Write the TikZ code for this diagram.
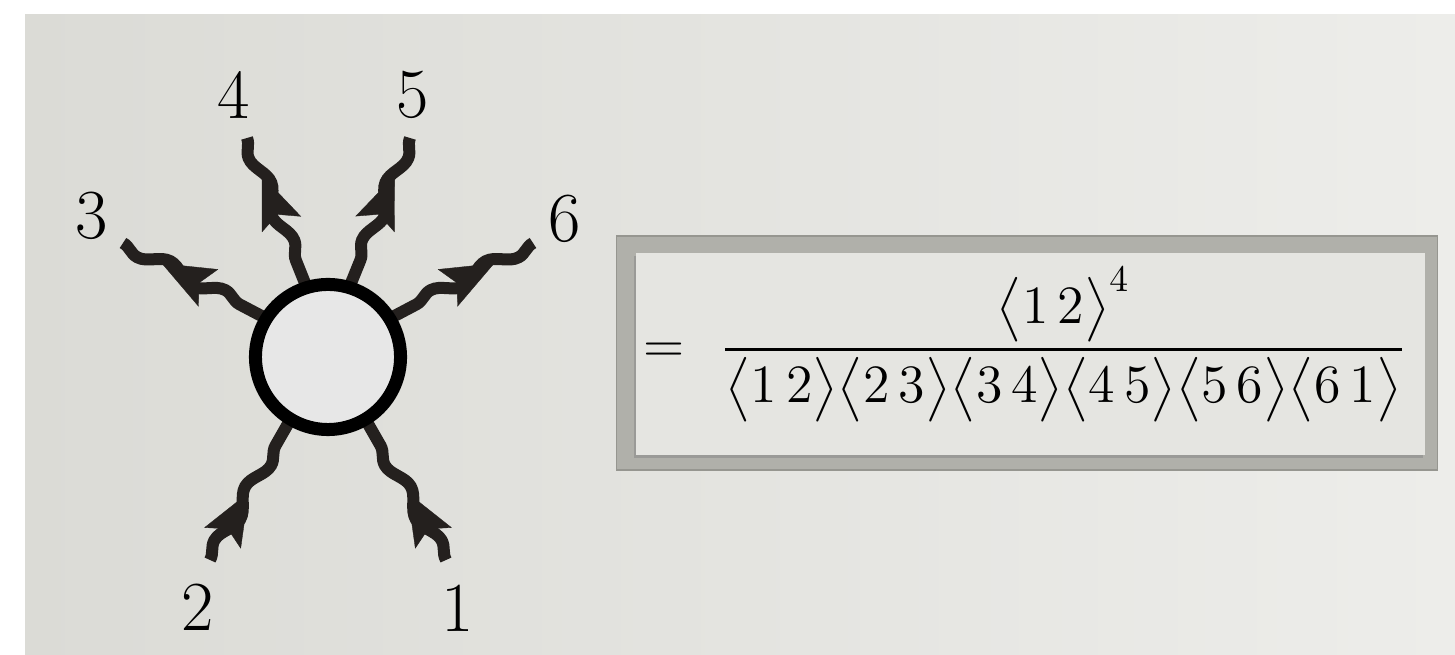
\documentclass[tikz,border=0pt]{standalone}
\usepackage{amsmath,amssymb}
\usepackage{tikz}
\usetikzlibrary{arrows.meta,positioning,calc,decorations.pathmorphing,shadows}
\definecolor{paperdark}{RGB}{219,219,214}
\definecolor{paperlight}{RGB}{237,237,234}
\definecolor{framegray}{RGB}{176,176,170}
\definecolor{panelgray}{RGB}{229,229,225}
\definecolor{blobfill}{RGB}{231,231,231}
\definecolor{gluonink}{RGB}{36,32,30}
\pgfdeclarelayer{bg}
\pgfdeclarelayer{legs}
\pgfsetlayers{bg,legs,main}

\begin{document}
\begin{tikzpicture}[x=.01cm,y=.01cm,
  gluon/.style={draw=gluonink,line width=.12cm,decorate,decoration={snake,amplitude=.06cm,segment length=.62cm}},
  gluon flip/.style={gluon,decoration={mirror}},
  gluon tip/.style={draw=gluonink,line width=.1pt,-{Stealth[length=15pt,width=12pt,inset=3pt]}},
  leg label/.style={font=\fontsize{20}{24}\selectfont,inner sep=0pt}]
\useasboundingbox (0,0) rectangle (1455,655);
\begin{pgfonlayer}{bg}
\fill[white] (0,0) rectangle (1455,655);
\shade[left color=paperdark,right color=paperlight] (25,0) rectangle (1455,640);
\end{pgfonlayer}
\node[circle,draw=black,fill=blobfill,line width=.13cm,minimum size=1.45cm,inner sep=0pt,outer sep=0pt] (blob) at (328,298) {};
\coordinate (e1) at (446,95);
\coordinate (e2) at (210,95);
\coordinate (e3) at (123,412);
\coordinate (e4) at (247,517);
\coordinate (e5) at (410,517);
\coordinate (e6) at (533,412);
\begin{pgfonlayer}{legs}
\draw[gluon flip] (e1) -- (blob.301);
\draw[gluon] (e2) -- (blob.239);
\draw[gluon flip] (e3) -- (blob.148);
\draw[gluon flip] (e4) -- (blob.107);
\draw[gluon] (e5) -- (blob.73);
\draw[gluon] (e6) -- (blob.32);
\draw[gluon tip] ($(e1)!.27!(blob.301)$) -- ($(e1)!.48!(blob.301)$);
\draw[gluon tip] ($(e2)!.27!(blob.239)$) -- ($(e2)!.48!(blob.239)$);
\draw[gluon tip] ($(e3)!.48!(blob.148)$) -- ($(e3)!.27!(blob.148)$);
\draw[gluon tip] ($(e4)!.46!(blob.107)$) -- ($(e4)!.25!(blob.107)$);
\draw[gluon tip] ($(e5)!.46!(blob.73)$) -- ($(e5)!.25!(blob.73)$);
\draw[gluon tip] ($(e6)!.46!(blob.32)$) -- ($(e6)!.27!(blob.32)$);
\end{pgfonlayer}
\node[leg label] (l1) at (458,47) {1};
\node[leg label] (l2) at (198,48) {2};
\node[leg label] (l3) at (92,439) {3};
\node[leg label] (l4) at (234,560) {4};
\node[leg label] (l5) at (413,560) {5};
\node[leg label] (l6) at (565,436) {6};
\node[draw=framegray!85!black,fill=framegray,minimum width=8.2cm,minimum height=2.34cm,inner sep=0pt] (frame) at (1027,302) {};
\node[fill=panelgray,minimum width=7.89cm,minimum height=2.02cm,inner sep=0pt,drop shadow={shadow xshift=-.02cm,shadow yshift=-.03cm,opacity=.45}] (panel) at (1030.5,301) {};
\node[anchor=base west,inner sep=0pt,font=\fontsize{14.4}{20}\selectfont] (amp) at (643,292) {\scalebox{1.065}{$=\mkern7mu\displaystyle\frac{\bigl\langle 1\,2\bigr\rangle^4}{\bigl\langle 1\,2\bigr\rangle\bigl\langle 2\,3\bigr\rangle\bigl\langle 3\,4\bigr\rangle\bigl\langle 4\,5\bigr\rangle\bigl\langle 5\,6\bigr\rangle\bigl\langle 6\,1\bigr\rangle}$}};
\end{tikzpicture}
\end{document}
